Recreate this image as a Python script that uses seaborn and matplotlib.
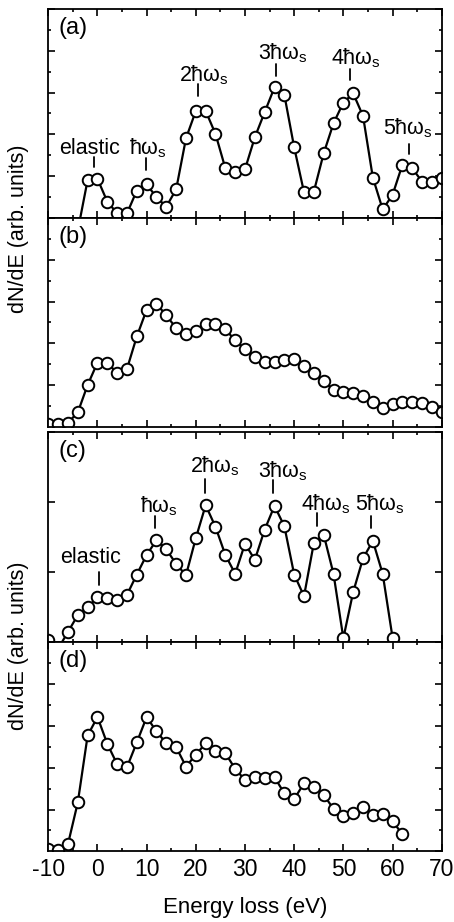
import numpy as np
import seaborn as sns
import matplotlib.pyplot as plt
from matplotlib.ticker import MultipleLocator

# energy loss axis (eV), 2 eV steps
energy_a = list(range(-4, 71, 2))
energy_b = list(range(-10, 71, 2))
energy_c = list(range(-10, 61, 2))
energy_d = list(range(-10, 63, 2))

# dN/dE, arbitrary units
counts_a = [-0.6, 1.82, 1.87, 0.78, 0.22, 0.22, 1.31, 1.61, 0.99, 0.54,
            1.37, 3.81, 5.12, 5.12, 4.02, 2.38, 2.18, 2.33, 3.86, 5.06,
            6.25, 5.89, 3.38, 1.23, 1.26, 3.09, 4.53, 5.52, 5.96, 4.88,
            1.93, 0.41, 1.10, 2.54, 2.38, 1.74, 1.74, 1.93]
counts_b = [0.15, 0.15, 0.2, 0.70, 2.01, 3.08, 3.08, 2.57, 2.78, 4.33,
            5.61, 5.89, 5.34, 4.73, 4.44, 4.57, 4.94, 4.94, 4.68, 4.14,
            3.72, 3.37, 3.10, 3.10, 3.21, 3.26, 2.94, 2.60, 2.20, 1.77,
            1.66, 1.61, 1.49, 1.18, 0.89, 1.10, 1.18, 1.21, 1.17, 0.97,
            0.73]
counts_c = [0.02, -0.1, 0.14, 0.38, 0.49, 0.64, 0.62, 0.60, 0.67, 0.96,
            1.24, 1.45, 1.32, 1.11, 0.95, 1.48, 1.95, 1.64, 1.24, 0.97,
            1.40, 1.17, 1.60, 1.94, 1.65, 0.96, 0.65, 1.41, 1.53, 0.97,
            0.05, 0.71, 1.19, 1.44, 0.97, 0.06]
counts_d = [0.1, 0.07, 0.35, 2.34, 5.53, 6.41, 5.13, 4.16, 4.02, 5.20,
            6.41, 5.72, 5.16, 4.97, 4.05, 4.61, 5.16, 4.77, 4.69, 3.94,
            3.41, 3.57, 3.52, 3.54, 2.77, 2.50, 3.25, 3.09, 2.70, 2.03,
            1.69, 1.82, 2.11, 1.74, 1.77, 1.45, 0.82]

panel_names = ["(a)", "(b)", "(c)", "(d)"]

# peak labels: text, text x, text baseline y, tick x, tick y0, tick y1
peaks_a = [("elastic", -1.7, 3.05, -0.7, 2.45, 2.9),
           ("ħω$_\\mathrm{s}$", 10.3, 3.05, 9.9, 2.3, 2.85),
           ("2ħω$_\\mathrm{s}$", 21.7, 6.55, 20.5, 5.85, 6.4),
           ("3ħω$_\\mathrm{s}$", 37.7, 7.6, 36.4, 6.8, 7.35),
           ("4ħω$_\\mathrm{s}$", 52.5, 7.35, 51.3, 6.6, 7.15),
           ("5ħω$_\\mathrm{s}$", 63.2, 4.0, 63.3, 3.05, 3.55)]
peaks_c = [("elastic", -1.4, 1.13, 0.3, 0.81, 0.99),
           ("ħω$_\\mathrm{s}$", 12.5, 1.84, 11.7, 1.63, 1.8),
           ("2ħω$_\\mathrm{s}$", 23.8, 2.42, 21.8, 2.13, 2.32),
           ("3ħω$_\\mathrm{s}$", 37.8, 2.35, 35.7, 2.12, 2.31),
           ("4ħω$_\\mathrm{s}$", 46.4, 1.87, 44.6, 1.65, 1.84),
           ("5ħω$_\\mathrm{s}$", 57.4, 1.87, 55.6, 1.62, 1.79)]

sns.set_theme(style="ticks")
plt.rcParams['font.family'] = ['Liberation Sans', 'DejaVu Sans']
plt.rcParams['mathtext.fontset'] = 'custom'
plt.rcParams['mathtext.rm'] = 'Liberation Sans'
plt.rcParams['mathtext.it'] = 'Liberation Sans:italic'
plt.rcParams['axes.unicode_minus'] = False
for key in ('text.color', 'axes.labelcolor', 'xtick.color', 'ytick.color',
            'xtick.labelcolor', 'ytick.labelcolor'):
    plt.rcParams[key] = 'black'

fig = plt.figure(figsize=(4.54, 9.22), dpi=100)
left, width = 0.1064, 0.8665
boxes = [(0.7636, 0.2267), (0.5369, 0.2267), (0.3040, 0.2278), (0.0765, 0.2275)]
axes = [fig.add_axes([left, y0, width, h]) for y0, h in boxes]

series = [(energy_a, counts_a), (energy_b, counts_b),
          (energy_c, counts_c), (energy_d, counts_d)]

for i, (ax, (x, y)) in enumerate(zip(axes, series)):
    sns.lineplot(x=x, y=y, ax=ax, color="black", lw=1.6, marker="o",
                 markersize=8.3, markerfacecolor="white",
                 markeredgecolor="black", markeredgewidth=1.4)
    ax.set_xlim(-10, 70)
    if i == 2:
        ax.set_ylim(0, 3)
        ax.yaxis.set_major_locator(MultipleLocator(1))
    else:
        ax.set_ylim(0, 10)
        ax.yaxis.set_major_locator(MultipleLocator(2))
        ax.yaxis.set_minor_locator(MultipleLocator(1))
    ax.xaxis.set_major_locator(MultipleLocator(10))
    ax.xaxis.set_minor_locator(MultipleLocator(5))
    ax.tick_params(which="both", direction="in", top=True, right=True,
                   color="black", width=1.2)
    ax.tick_params(which="major", length=5)
    ax.tick_params(which="minor", length=2.5)
    ax.set_yticklabels([])
    ax.set_ylabel("")
    for s in ax.spines.values():
        s.set_linewidth(1.3)
        s.set_color("black")
    ax.text(0.026, 0.96, panel_names[i], transform=ax.transAxes,
            ha="left", va="top", fontsize=17)
    if i < 3:
        ax.set_xticklabels([])
    else:
        ax.tick_params(axis="x", labelsize=16.5, pad=5)
        ax.set_xlabel("Energy loss (eV)", fontsize=16, labelpad=11)

for ax, peaks in ((axes[0], peaks_a), (axes[2], peaks_c)):
    for txt, tx, ty, mx, my0, my1 in peaks:
        ax.text(tx, ty, txt, ha="center", va="baseline", fontsize=15.5)
        ax.plot([mx, mx], [my0, my1], color="black", lw=1.3)

fig.text(0.04, 0.752, "dN/dE (arb. units)", rotation=90,
         ha="center", va="center", fontsize=15.5)
fig.text(0.04, 0.300, "dN/dE (arb. units)", rotation=90,
         ha="center", va="center", fontsize=15.5)

fig.savefig("out.png", dpi=100)
